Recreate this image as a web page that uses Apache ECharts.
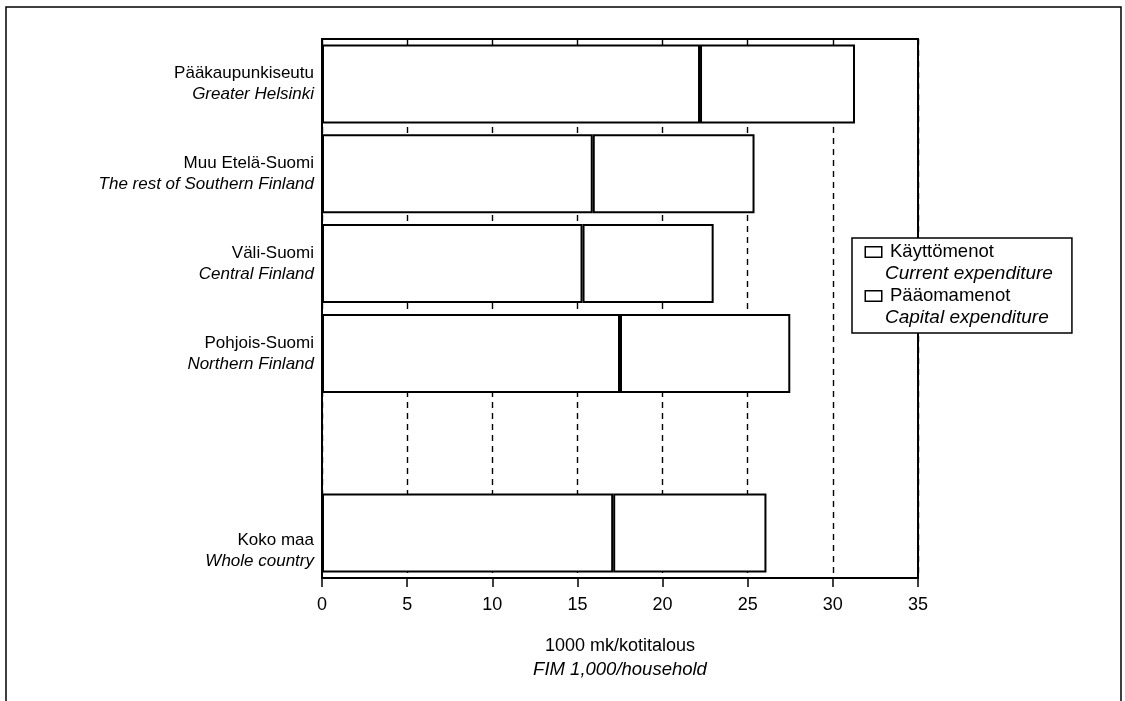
<!DOCTYPE html>
<html>
<head>
<meta charset="utf-8">
<script src="https://cdn.jsdelivr.net/npm/echarts@6/dist/echarts.min.js"></script>
<style>
html,body{margin:0;padding:0;background:#fff;}
#chart{width:1125px;height:701px;}
</style>
</head>
<body>
<div id="chart"></div>
<script>
const categoriesFi = ['Pääkaupunkiseutu', 'Muu Etelä-Suomi', 'Väli-Suomi', 'Pohjois-Suomi', '', 'Koko maa'];
const categoriesEn = ['Greater Helsinki', 'The rest of Southern Finland', 'Central Finland', 'Northern Finland', '', 'Whole country'];
const currentExpenditure = [22.2, 15.9, 15.3, 17.5, null, 17.1];
const capitalExpenditure = [9.1, 9.5, 7.7, 10.0, null, 9.0];
const seriesNamesFi = ['Käyttömenot', 'Pääomamenot'];
const seriesNamesEn = ['Current expenditure', 'Capital expenditure'];
const xTicks = [0, 5, 10, 15, 20, 25, 30, 35];
const axisTitleFi = '1000 mk/kotitalous';
const axisTitleEn = 'FIM 1,000/household';

const FONT = "'Liberation Sans', Arial, Helvetica, sans-serif";
const categories = categoriesFi.map((c, i) => c ? c + '\n' + categoriesEn[i] : '');

const chart = echarts.init(document.getElementById('chart'), null, {renderer: 'canvas'});
const barStyle = {color: '#fff', borderColor: '#000', borderWidth: 2};

chart.setOption({
  animation: false,
  backgroundColor: '#fff',
  textStyle: {fontFamily: FONT, color: '#000'},
  graphic: [{
    type: 'rect',
    shape: {x: 6, y: 7, width: 1115, height: 720},
    style: {fill: 'none', stroke: '#000', lineWidth: 1.5},
    silent: true, z: -1
  }],
  grid: {
    left: 322, right: 207, top: 39, bottom: 123,
    show: true, borderColor: '#000', borderWidth: 2, backgroundColor: 'transparent'
  },
  legend: {
    orient: 'vertical',
    left: 852, top: 238,
    width: 220,
    padding: [3, 19, 4, 9],
    itemGap: 0,
    itemWidth: 0, itemHeight: 0, itemTextGap: 0,
    icon: 'none',
    selectedMode: false,
    borderColor: '#000', borderWidth: 1.5,
    backgroundColor: '#fff',
    data: seriesNamesFi,
    formatter: function (name) {
      const i = seriesNamesFi.indexOf(name);
      return '{box|\u00a0}{a|' + name + '}\n{b|' + seriesNamesEn[i] + '}';
    },
    textStyle: {
      fontFamily: FONT, color: '#000', fontSize: 18, lineHeight: 22,
      rich: {
        box: {width: 15, height: 9, borderColor: '#000', borderWidth: 1.5, backgroundColor: '#fff'},
        a: {fontSize: 18.5, fontFamily: FONT, color: '#000', padding: [0, 0, 0, 9], lineHeight: 22},
        b: {fontSize: 19, fontFamily: FONT, color: '#000', fontStyle: 'italic', padding: [0, 0, 0, 19], lineHeight: 22}
      }
    }
  },
  xAxis: {
    type: 'value',
    min: xTicks[0], max: xTicks[xTicks.length - 1], interval: 5,
    axisLine: {show: true, lineStyle: {color: '#000', width: 2}},
    axisTick: {show: true, length: 9, lineStyle: {color: '#000', width: 1.5}},
    axisLabel: {color: '#000', fontSize: 18, fontFamily: FONT, margin: 18},
    splitLine: {show: true, lineStyle: {color: '#000', width: 1.4, type: [6, 5]}},
    name: '{a|' + axisTitleFi + '}\n{b|' + axisTitleEn + '}',
    nameLocation: 'middle',
    nameGap: 57,
    nameTextStyle: {
      color: '#000', fontFamily: FONT, lineHeight: 23, verticalAlign: 'top',
      rich: {
        a: {fontSize: 18, fontFamily: FONT, color: '#000', lineHeight: 23},
        b: {fontSize: 18.5, fontFamily: FONT, color: '#000', fontStyle: 'italic', lineHeight: 23}
      }
    }
  },
  yAxis: {
    type: 'category',
    inverse: true,
    data: categories,
    axisLine: {show: true, lineStyle: {color: '#000', width: 2}},
    axisTick: {show: false},
    splitLine: {show: false},
    axisLabel: {
      margin: 8,
      align: 'right',
      formatter: function (v, idx) {
        if (!v) return '';
        const parts = v.split('\n');
        const lift = idx === categoriesFi.length - 1 ? '{sp|\u00a0}\n' : '';
        return lift + '{a|' + parts[0] + '}\n{b|' + parts[1] + '}';
      },
      rich: {
        sp: {fontSize: 10, lineHeight: 36},
        a: {fontSize: 17, fontFamily: FONT, color: '#000', lineHeight: 21, align: 'right'},
        b: {fontSize: 17, fontFamily: FONT, color: '#000', fontStyle: 'italic', lineHeight: 21, align: 'right'}
      }
    }
  },
  series: [
    {
      name: seriesNamesFi[0], type: 'bar', stack: 'total',
      barCategoryGap: '12%',
      data: currentExpenditure,
      itemStyle: barStyle
    },
    {
      name: seriesNamesFi[1], type: 'bar', stack: 'total',
      barCategoryGap: '12%',
      data: capitalExpenditure,
      itemStyle: barStyle
    }
  ]
});
</script>
</body>
</html>
